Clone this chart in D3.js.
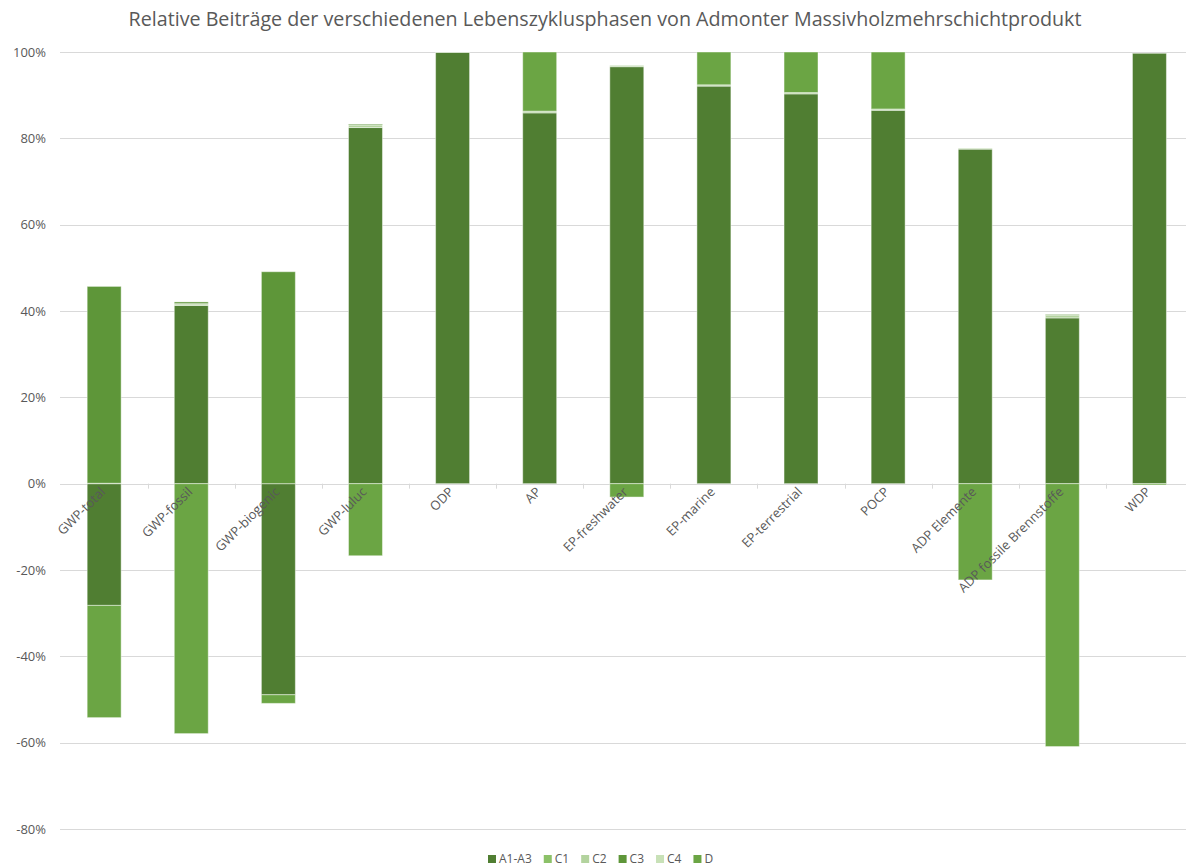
<!DOCTYPE html>
<html>
<head>
<meta charset="utf-8">
<script src="https://cdn.jsdelivr.net/npm/d3@7"></script>
<style>
  body { margin: 0; background: #fff; }
</style>
</head>
<body>
<div id="viz"></div>
<script>
const categories = ["GWP-total", "GWP-fossil", "GWP-biogenic", "GWP-luluc", "ODP", "AP",
  "EP-freshwater", "EP-marine", "EP-terrestrial", "POCP", "ADP Elemente",
  "ADP fossile Brennstoffe", "WDP"];

const seriesNames = ["A1-A3", "C1", "C2", "C3", "C4", "D"];

// Anteile in %
const a1a3 = [-28.2, 41.3, -48.9, 82.5, 99.9, 85.9, 96.6, 92.1, 90.3, 86.5, 77.5, 38.4, 99.7];
const c1   = [0, 0.1, 0, 0, 0, 0, 0, 0, 0, 0, 0, 0, 0];
const c2   = [0.1, 0.3, 0, 0.6, 0.1, 0.4, 0.3, 0.3, 0.3, 0.3, 0.2, 0.6, 0];
const c3   = [45.6, 0.4, 49.1, 0.2, 0, 0, 0, 0, 0, 0, 0, 0.2, 0];
const c4   = [0, 0, 0, 0, 0, 0, 0, 0, 0, 0, 0, 0, 0];
const d    = [-26.0, -57.9, -2.0, -16.7, 0, 13.7, -3.1, 7.6, 9.4, 13.2, -22.3, -60.9, -0.3];

const yTicks = [-80, -60, -40, -20, 0, 20, 40, 60, 80, 100];

const colors = ["#507e32", "#8cc168", "#b3d39e", "#5e9639", "#c8e1b7", "#6ba544"];

const width = 1186, height = 868;

const rows = categories.map((c, i) => ({
  cat: c, "A1-A3": a1a3[i], "C1": c1[i], "C2": c2[i], "C3": c3[i], "C4": c4[i], "D": d[i]
}));

const stacked = d3.stack()
  .keys(seriesNames)
  .offset(d3.stackOffsetDiverging)(rows);

const xCat = d3.scaleBand().domain(categories).range([60.6, 1193]);
const xBar = xCat.copy().paddingInner(0.61).paddingOuter(0.305);
const y = d3.scaleLinear().domain([-80, 100]).range([829, 52]);
const color = d3.scaleOrdinal().domain(seriesNames).range(colors);

const svg = d3.select("#viz")
  .append("svg")
  .attr("width", width)
  .attr("height", height)
  .style("font-family", "'Open Sans', sans-serif");

svg.append("text")
  .attr("x", 605)
  .attr("y", 26)
  .attr("text-anchor", "middle")
  .attr("fill", "#595959")
  .style("font-size", "19.7px")
  .text("Relative Beiträge der verschiedenen Lebenszyklusphasen von Admonter Massivholzmehrschichtprodukt");

// gridlines + y labels
svg.append("g")
  .selectAll("line")
  .data(yTicks)
  .join("line")
  .attr("x1", 60)
  .attr("x2", width)
  .attr("y1", t => Math.round(y(t)) + 0.5)
  .attr("y2", t => Math.round(y(t)) + 0.5)
  .attr("stroke", "#d9d9d9");

svg.append("g")
  .selectAll("text")
  .data(yTicks)
  .join("text")
  .attr("x", 46)
  .attr("y", t => y(t) + 4.5)
  .attr("text-anchor", "end")
  .attr("fill", "#595959")
  .style("font-size", "13px")
  .text(t => t + "%");

// bars
svg.append("g")
  .selectAll("g")
  .data(stacked)
  .join("g")
  .attr("fill", s => color(s.key))
  .selectAll("rect")
  .data(s => s.filter(p => p[1] - p[0] !== 0))
  .join("rect")
  .attr("x", p => xBar(p.data.cat))
  .attr("width", xBar.bandwidth())
  .attr("y", p => y(p[1]))
  .attr("height", p => y(p[0]) - y(p[1]))
  .attr("stroke", "#fff")
  .attr("stroke-opacity", 0.45)
  .attr("stroke-width", 1);

// category ticks
svg.append("g")
  .selectAll("line")
  .data(categories.slice(1))
  .join("line")
  .attr("x1", c => Math.round(xCat(c)) + 0.5)
  .attr("x2", c => Math.round(xCat(c)) + 0.5)
  .attr("y1", y(0))
  .attr("y2", y(0) + 5)
  .attr("stroke", "#d9d9d9");

// category labels
svg.append("g")
  .selectAll("text")
  .data(categories)
  .join("text")
  .attr("transform", c => `translate(${xCat(c) + xCat.bandwidth() / 2 + 2},${y(0) + 9}) rotate(-45)`)
  .attr("text-anchor", "end")
  .attr("fill", "#595959")
  .style("font-size", "13px")
  .text(c => c);

// legend
const legend = svg.append("g").attr("transform", "translate(0,862)");
let lx = 488;
seriesNames.forEach(name => {
  legend.append("rect")
    .attr("x", lx)
    .attr("y", -7)
    .attr("width", 8)
    .attr("height", 8)
    .attr("fill", color(name));
  const t = legend.append("text")
    .attr("x", lx + 11)
    .attr("y", 1)
    .attr("fill", "#595959")
    .style("font-size", "12px")
    .text(name);
  lx += 11 + t.node().getComputedTextLength() + 12;
});
</script>
</body>
</html>
